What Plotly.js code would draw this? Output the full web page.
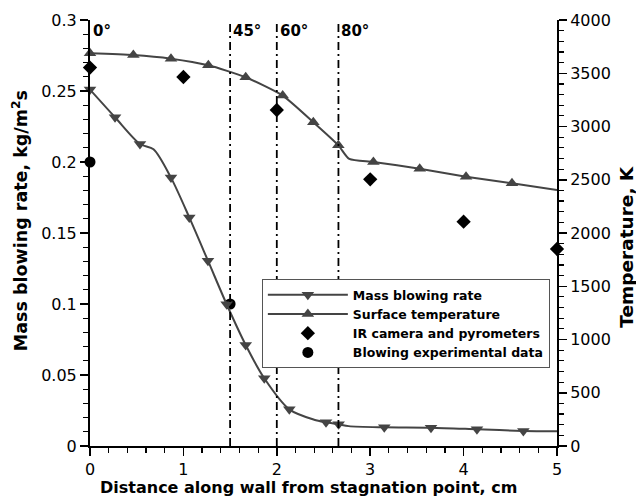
<!DOCTYPE html>
<html>
<head>
<meta charset="utf-8">
<script src="https://cdn.plot.ly/plotly-3.0.1.min.js"></script>
<style>html,body{margin:0;padding:0;background:#fff;}#chart{width:636px;height:498px;}</style>
</head>
<body>
<div id="chart"></div>
<script>
// Mass blowing rate (kg/m^2 s) - markers
const massX = [0, 0.268, 0.535, 0.867, 1.063, 1.263, 1.463, 1.667, 1.866, 2.134, 2.527, 2.662, 3.151, 3.651, 4.143, 4.64];
const massY = [0.251, 0.2315, 0.2127, 0.189, 0.161, 0.1305, 0.0998, 0.0711, 0.0477, 0.0258, 0.0167, 0.0153, 0.0132, 0.0129, 0.0118, 0.0106];
// Mass blowing rate - curve
const massCurveX = [0, 0.268, 0.535, 0.68, 0.867, 1.063, 1.263, 1.463, 1.667, 1.866, 2.134, 2.4, 2.527, 2.662, 2.77, 3.151, 3.651, 4.143, 4.64, 5];
const massCurveY = [0.251, 0.2315, 0.2127, 0.209, 0.189, 0.161, 0.1305, 0.0998, 0.0711, 0.0477, 0.0258, 0.0185, 0.0167, 0.0153, 0.0140, 0.0132, 0.0129, 0.0118, 0.0106, 0.0103];
// Surface temperature (K) - markers
const tempX = [0, 0.464, 0.867, 1.267, 1.667, 2.063, 2.391, 2.659, 3.034, 3.53, 4.026, 4.518];
const tempY = [3687, 3671, 3637, 3575, 3462, 3290, 3040, 2823, 2667, 2604, 2529, 2467];
// Surface temperature - curve
const tempCurveX = [0, 0.464, 0.867, 1.267, 1.667, 2.063, 2.391, 2.659, 2.776, 3.034, 3.53, 4.026, 4.518, 5];
const tempCurveY = [3687, 3671, 3637, 3575, 3462, 3290, 3040, 2823, 2695, 2667, 2604, 2529, 2467, 2404];
// IR camera and pyrometers (K)
const irX = [0, 1, 2, 3, 4, 5];
const irY = [3553, 3465, 3155, 2504, 2106, 1850];
// Blowing experimental data (kg/m^2 s)
const blowX = [0, 1.5];
const blowY = [0.2, 0.1];
// Angle markers
const angleLabels = ['0°', '45°', '60°', '80°'];
const anglePos = [0, 1.5, 2, 2.66];

const names = ['Mass blowing rate', 'Surface temperature', 'IR camera and pyrometers', 'Blowing experimental data'];
const titles = {x: 'Distance along wall from stagnation point, cm', y: 'Mass blowing rate, kg/m<sup>2</sup>s', y2: 'Temperature, K'};
const gray = '#444444';
const FONT = 'DejaVu Sans, Verdana, sans-serif';

const traces = [
  {x: massCurveX, y: massCurveY, mode: 'lines', line: {color: gray, width: 2, shape: 'spline', smoothing: 0.8}, showlegend: false, hoverinfo: 'skip', yaxis: 'y'},
  {x: tempCurveX, y: tempCurveY, mode: 'lines', line: {color: gray, width: 2, shape: 'spline', smoothing: 0.6}, showlegend: false, hoverinfo: 'skip', yaxis: 'y2'},
  {x: massX, y: massY, mode: 'markers', marker: {symbol: 'triangle-down', size: 11, color: gray}, showlegend: false, cliponaxis: false, yaxis: 'y'},
  {x: tempX, y: tempY, mode: 'markers', marker: {symbol: 'triangle-up', size: 11, color: gray}, showlegend: false, cliponaxis: false, yaxis: 'y2'},
  {x: irX, y: irY, mode: 'markers', marker: {symbol: 'diamond', size: 11, color: '#000'}, name: names[2], cliponaxis: false, yaxis: 'y2'},
  {x: blowX, y: blowY, mode: 'markers', marker: {symbol: 'circle', size: 11, color: '#000'}, name: names[3], cliponaxis: false, yaxis: 'y'},
  {x: [null], y: [null], mode: 'lines+markers', line: {color: gray, width: 2}, marker: {symbol: 'triangle-down', size: 11, color: gray}, name: names[0], yaxis: 'y'},
  {x: [null], y: [null], mode: 'lines+markers', line: {color: gray, width: 2}, marker: {symbol: 'triangle-up', size: 11, color: gray}, name: names[1], yaxis: 'y'}
];

const shapes = [];
const annotations = [];
anglePos.forEach((p, i) => {
  if (p > 0) {
    shapes.push({type: 'line', xref: 'x', yref: 'paper', x0: p, x1: p, y0: 0, y1: 1,
      line: {color: '#000', width: 1.8, dash: '8px,4px,2px,4px'}});
  }
  annotations.push({x: p, xref: 'x', y: 1, yref: 'paper', yanchor: 'top', xanchor: 'left', xshift: 1, yshift: 0,
    text: '<b>' + angleLabels[i] + '</b>', showarrow: false, font: {family: FONT, size: 15, color: '#000'}});
});

// axis titles as annotations for precise placement
annotations.push({xref: 'paper', yref: 'paper', x: 0.467, y: -0.097, xanchor: 'center', yanchor: 'middle', showarrow: false,
  text: '<b>' + titles.x + '</b>', font: {family: FONT, size: 16, color: '#000'}});
annotations.push({xref: 'paper', yref: 'paper', x: -0.15, y: 0.53, xanchor: 'center', yanchor: 'middle', showarrow: false, textangle: -90,
  text: '<b>' + titles.y + '</b>', font: {family: FONT, size: 17.5, color: '#000'}});
annotations.push({xref: 'paper', yref: 'paper', x: 1.15, y: 0.468, xanchor: 'center', yanchor: 'middle', showarrow: false, textangle: -90,
  text: '<b>' + titles.y2 + '</b>', font: {family: FONT, size: 18.5, color: '#000'}});

const axisCommon = {
  showgrid: false, zeroline: false, showline: true, linecolor: '#000', linewidth: 2,
  ticks: 'outside', ticklen: 8, tickwidth: 1.5, tickcolor: '#000',
  tickfont: {family: FONT, size: 16, color: '#000'}
};

const layout = {
  width: 636, height: 498,
  margin: {l: 90, r: 79, t: 20, b: 52},
  paper_bgcolor: '#fff', plot_bgcolor: '#fff',
  font: {family: FONT, color: '#000'},
  xaxis: Object.assign({}, axisCommon, {
    range: [0, 5], dtick: 1, tick0: 0,
    minor: {dtick: 0.2, ticks: 'outside', ticklen: 5, tickwidth: 1.2, tickcolor: '#000'}
  }),
  yaxis: Object.assign({}, axisCommon, {
    range: [0, 0.3], dtick: 0.05, tick0: 0,
    minor: {dtick: 0.01, ticks: 'outside', ticklen: 5, tickwidth: 1.2, tickcolor: '#000'}
  }),
  yaxis2: Object.assign({}, axisCommon, {
    range: [0, 4000], dtick: 500, tick0: 0, overlaying: 'y', side: 'right',
    minor: {dtick: 100, ticks: 'outside', ticklen: 5, tickwidth: 1.2, tickcolor: '#000'}
  }),
  legend: {
    x: 0.368, y: 0.392, xanchor: 'left', yanchor: 'top',
    bgcolor: '#fff', bordercolor: '#555', borderwidth: 1,
    font: {family: FONT, size: 12.5, color: '#000', weight: 'bold'},
    itemwidth: 80, tracegroupgap: 0,
    traceorder: 'normal'
  },
  shapes: shapes,
  annotations: annotations,
  showlegend: true
};

const order = [6, 7, 4, 5, 0, 1, 2, 3];
const ordered = order.map(i => traces[i]);

Plotly.newPlot('chart', ordered, layout, {displayModeBar: false, staticPlot: true});
</script>
</body>
</html>
